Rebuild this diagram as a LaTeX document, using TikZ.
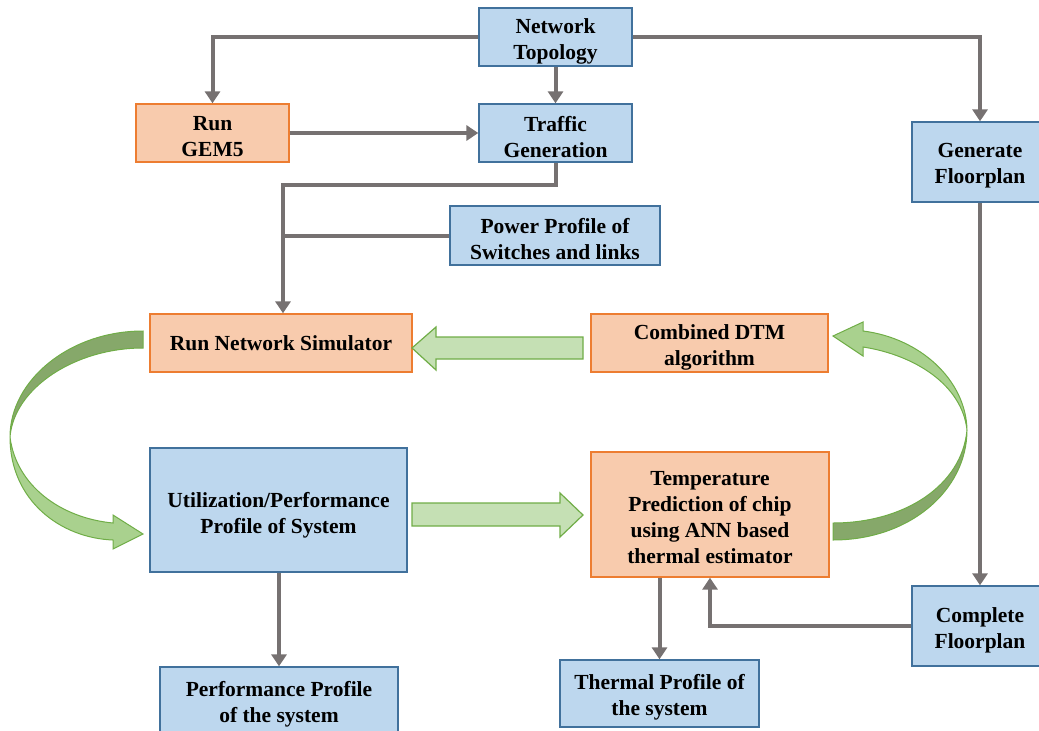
\documentclass[tikz,border=0pt]{standalone}
\usepackage{fontspec}
\setmainfont{Liberation Serif}[BoldFont={Liberation Serif Bold}]
\newfontfamily\timesbold{Liberation Serif Bold}
\usetikzlibrary{arrows.meta}
\definecolor{bfill}{HTML}{BDD7EE}
\definecolor{bline}{HTML}{41719C}
\definecolor{ofill}{HTML}{F8CBAD}
\definecolor{oline}{HTML}{ED7D31}
\definecolor{gline}{HTML}{767171}
\definecolor{gfill}{HTML}{C5E0B4}
\definecolor{gedge}{HTML}{70AD47}
\definecolor{gdark}{HTML}{86A86A}
\definecolor{glight}{HTML}{A9D18E}
\begin{document}
\begin{tikzpicture}[x=1pt,y=-1pt,
  txt/.style={align=center, inner sep=0pt, font=\fontsize{21.5}{26}\selectfont\timesbold},
  box/.style={draw, line width=1.3pt, rectangle, inner sep=0pt},
  bluebox/.style={box, fill=bfill, draw=bline},
  orgbox/.style={box, fill=ofill, draw=oline},
  conn/.style={draw=gline, line width=4pt, -{Triangle[length=12pt,width=15pt]}},
  plain/.style={draw=gline, line width=4pt},
  blockarrow/.style={fill=gfill, draw=gedge, line width=1.2pt},
  curvedark/.style={fill=gdark, draw=gedge, line width=1pt},
  curvelight/.style={fill=glight, draw=gedge, line width=1pt}]
\useasboundingbox (0,0) rectangle (1039,731);

% boxes
\node[bluebox, minimum width=153pt, minimum height=58pt] (nt) at (555.5,37) {};
\node[orgbox, minimum width=153pt, minimum height=58pt] (gem) at (212.5,133) {};
\node[bluebox, minimum width=153pt, minimum height=58pt] (tg) at (555.5,133) {};
\node[bluebox, minimum width=136pt, minimum height=80pt] (gf) at (980,162) {};
\node[bluebox, minimum width=210pt, minimum height=59pt] (pp) at (555,235.5) {};
\node[orgbox, minimum width=262pt, minimum height=58pt] (rns) at (281,343) {};
\node[orgbox, minimum width=237pt, minimum height=58pt] (dtm) at (709.5,343) {};
\node[bluebox, minimum width=257pt, minimum height=124pt] (util) at (278.5,510) {};
\node[orgbox, minimum width=238pt, minimum height=125pt] (tp) at (710,514.5) {};
\node[bluebox, minimum width=136pt, minimum height=80pt] (cf) at (980,626) {};
\node[bluebox, minimum width=238pt, minimum height=70pt] (perf) at (279,702) {};
\node[bluebox, minimum width=199pt, minimum height=67pt] (tpr) at (659.5,693.5) {};

% texts
\node[txt] (ntT) at ([yshift=-4pt]nt.center) {Network\\Topology};
\node[txt] (gemT) at ([yshift=-4pt]gem.center) {Run\\GEM5};
\node[txt] (tgT) at ([yshift=-4pt]tg.center) {Traffic\\Generation};
\node[txt] (gfT) at ([yshift=-4pt]gf.center) {Generate\\Floorplan};
\node[txt] (ppT) at ([yshift=-4pt]pp.center) {Power Profile of\\Switches and links};
\node[txt] (rnsT) at (rns.center) {Run Network Simulator};
\node[txt] (dtmT) at ([yshift=-4pt]dtm.center) {Combined DTM\\algorithm};
\node[txt] (utilT) at ([yshift=-5pt]util.center) {Utilization/Performance\\Profile of System};
\node[txt] (tpT) at ([yshift=-3pt]tp.center) {Temperature\\Prediction of chip\\using ANN based\\thermal estimator};
\node[txt] (cfT) at ([yshift=-4pt]cf.center) {Complete\\Floorplan};
\node[txt, anchor=north] (perfT) at (279,681) {Performance Profile\\of the system};
\node[txt] (tprT) at ([yshift=-4pt]tpr.center) {Thermal Profile of\\the system};

% connectors
\coordinate (j1) at (283,185);
\draw[conn] (nt.west) -| (gem.north);
\draw[conn] (nt.south) -- (tg.north);
\draw[conn] (nt.east) -| (gf.north);
\draw[conn] (gem.east) -- (tg.west);
\draw[conn] (tg.south) |- (j1) -- (j1 |- rns.north);
\draw[plain] (pp.west) -- (pp.west -| j1);
\draw[conn] (gf.south) -- (cf.north);
\draw[conn] (cf.west) -| (tp.south);
\draw[conn] (tp.south -| tpr.north) -- (tpr.north);
\draw[conn] (util.south -| perf.north) -- (perf.north);

% straight block arrows
\draw[blockarrow] (583,337) -- (436,337) -- (436,327) -- (412,348) -- (436,370) -- (436,359) -- (583,359) -- cycle;
\draw[blockarrow] (412,503) -- (560,503) -- (560,493) -- (583,515) -- (560,537) -- (560,526) -- (412,526) -- cycle;

% left curved arrow
\draw[curvedark] (143,331) .. controls (70,331) and (10,380) .. (10,437)
   .. controls (14,388) and (75,348) .. (143,348) -- cycle;
\draw[curvelight] (10,437) .. controls (10,500) and (60,538) .. (113,540) -- (113,549) -- (143,534)
   -- (113,515) -- (113,523) .. controls (60,518) and (16,485) .. (10,437) -- cycle;

% right curved arrow
\draw[curvedark] (833,540) .. controls (910,540) and (967,490) .. (967,430)
   .. controls (962,485) and (905,523) .. (833,523) -- cycle;
\draw[curvelight] (967,430) .. controls (966,380) and (920,338) .. (863,331) -- (863,322) -- (833,336)
   -- (863,356) -- (863,347) .. controls (915,355) and (962,385) .. (967,430) -- cycle;
\end{tikzpicture}
\end{document}
